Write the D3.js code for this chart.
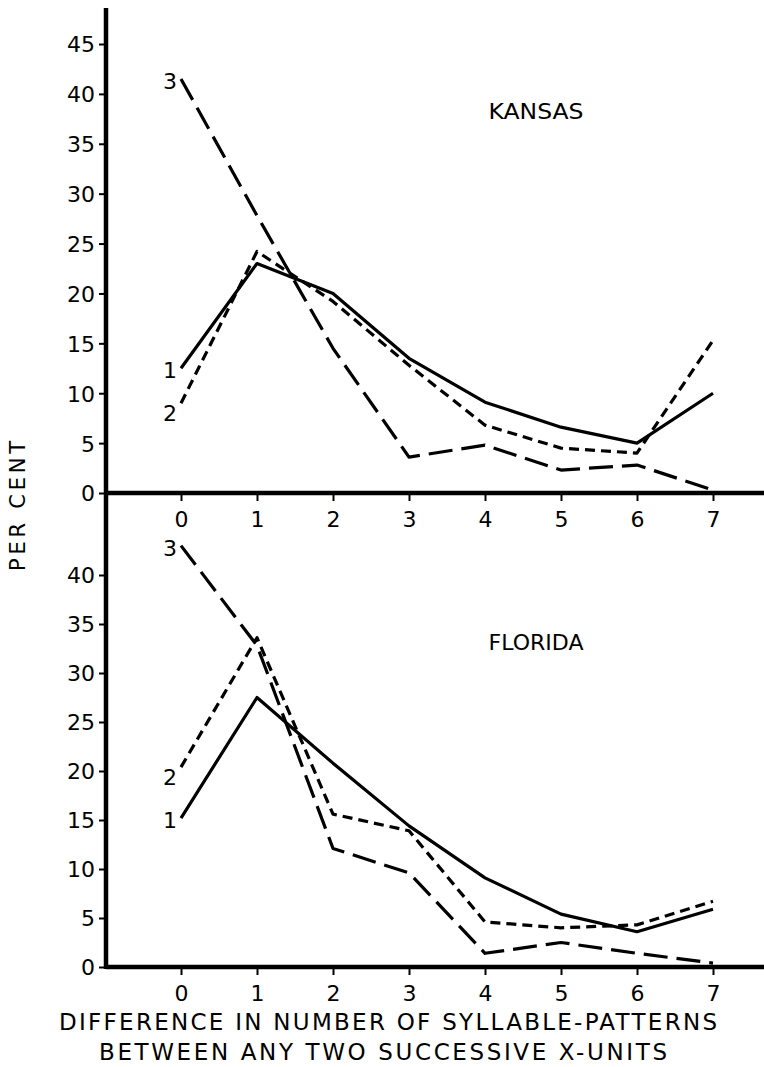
<!DOCTYPE html>
<html>
<head>
<meta charset="utf-8">
<script src="https://cdn.jsdelivr.net/npm/d3@7"></script>
<style>
  html, body { margin: 0; padding: 0; background: #fff; }
  svg { display: block; }
  text { font-family: "DejaVu Sans", sans-serif; fill: #000; }
</style>
</head>
<body>
<svg id="chart" width="764" height="1067"></svg>
<script>
// Difference in number of syllable-patterns between successive X-units
const categories = [0, 1, 2, 3, 4, 5, 6, 7];

// Kansas, per cent
const kansas1 = [12.5, 23.0, 20.0, 13.5, 9.1, 6.6, 5.0, 10.0];
const kansas2 = [9.0, 24.2, 19.2, 12.8, 6.8, 4.5, 4.0, 15.3];
const kansas3 = [41.5, 27.8, 14.5, 3.6, 4.8, 2.3, 2.8, 0.3];

// Florida, per cent
const florida1 = [15.2, 27.5, 20.8, 14.4, 9.1, 5.4, 3.6, 5.9];
const florida2 = [20.4, 33.6, 15.6, 13.9, 4.6, 4.0, 4.3, 6.7];
const florida3 = [43.0, 32.8, 12.1, 9.6, 1.4, 2.5, 1.4, 0.4];

const kansasTicks = [0, 5, 10, 15, 20, 25, 30, 35, 40, 45];
const floridaTicks = [0, 5, 10, 15, 20, 25, 30, 35, 40];
const seriesNames = ["1", "2", "3"];

const svg = d3.select("#chart");
const W = 764;
const axisX = 106;

const x = d3.scaleLinear().domain([0, 7]).range([181, 713]);
const yTop = d3.scaleLinear().domain([0, 45]).range([493, 44]);
const yBot = d3.scaleLinear().domain([0, 40]).range([967, 575]);

const dashes = [null, "10 6", "24 9"];

function panel(yScale, ticks, s1, s2, s3, title) {
  const g = svg.append("g");
  const series = [s1, s2, s3];
  const y0 = yScale(0);

  // y axis ticks and labels
  const ya = g.append("g")
    .attr("transform", `translate(${axisX},0)`)
    .call(d3.axisLeft(yScale).tickValues(ticks).tickFormat(d3.format("d"))
      .tickSize(7).tickPadding(4));
  ya.select(".domain").remove();
  ya.selectAll("line").attr("stroke", "#000").attr("stroke-width", 2);
  ya.selectAll("text").attr("font-size", 22).attr("dy", "0.36em");

  // x axis ticks and labels
  const xa = g.append("g")
    .attr("transform", `translate(0,${y0})`)
    .call(d3.axisBottom(x).tickValues(categories).tickFormat(d3.format("d"))
      .tickSize(8).tickPadding(10));
  xa.select(".domain").remove();
  xa.selectAll("line").attr("stroke", "#000").attr("stroke-width", 2);
  xa.selectAll("text").attr("font-size", 22);

  // heavy baseline running to the right edge
  g.append("line")
    .attr("x1", axisX).attr("x2", W)
    .attr("y1", y0).attr("y2", y0)
    .attr("stroke", "#000").attr("stroke-width", 4.5);

  const line = d3.line()
    .x((d, i) => x(categories[i]))
    .y(d => yScale(d));

  series.forEach((s, k) => {
    g.append("path")
      .datum(s)
      .attr("d", line)
      .attr("fill", "none")
      .attr("stroke", "#000")
      .attr("stroke-width", 3.2)
      .attr("stroke-linejoin", "round")
      .attr("stroke-dasharray", dashes[k]);

    g.append("text")
      .attr("x", x(categories[0]) - 11)
      .attr("y", yScale(s[0]) + (k === 1 ? 10 : 2))
      .attr("text-anchor", "middle")
      .attr("dy", "0.36em")
      .attr("font-size", 22)
      .text(seriesNames[k]);
  });

  g.append("text")
    .attr("x", 536)
    .attr("y", yScale(ticks[ticks.length - 1]) + 75)
    .attr("text-anchor", "middle")
    .attr("font-size", 21)
    .attr("textLength", 95)
    .attr("lengthAdjust", "spacingAndGlyphs")
    .text(title);
}

panel(yTop, kansasTicks, kansas1, kansas2, kansas3, "KANSAS");
panel(yBot, floridaTicks, florida1, florida2, florida3, "FLORIDA");

// shared vertical axis
svg.append("line")
  .attr("x1", axisX).attr("x2", axisX)
  .attr("y1", yTop(48.6)).attr("y2", yBot(0) + 2)
  .attr("stroke", "#000").attr("stroke-width", 4.5);

// axis titles
svg.append("text")
  .attr("transform", "translate(25,506) rotate(-90)")
  .attr("text-anchor", "middle")
  .attr("font-size", 21)
  .attr("textLength", 130)
  .attr("lengthAdjust", "spacing")
  .text("PER CENT");

svg.append("text")
  .attr("x", 388).attr("y", 1030)
  .attr("text-anchor", "middle")
  .attr("font-size", 23)
  .attr("textLength", 658)
  .attr("lengthAdjust", "spacing")
  .text("DIFFERENCE IN NUMBER OF SYLLABLE-PATTERNS");

svg.append("text")
  .attr("x", 383).attr("y", 1060)
  .attr("text-anchor", "middle")
  .attr("font-size", 23)
  .attr("textLength", 568)
  .attr("lengthAdjust", "spacing")
  .text("BETWEEN ANY TWO SUCCESSIVE  X-UNITS");
</script>
</body>
</html>
